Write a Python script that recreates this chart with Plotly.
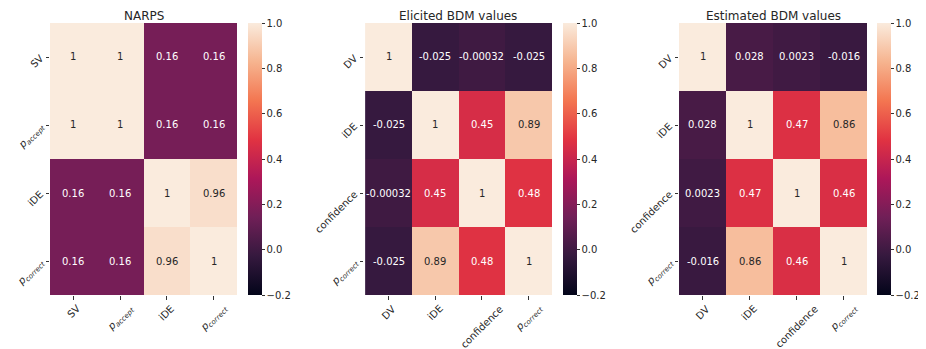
import plotly.graph_objects as go

# ---------------- data ----------------
P_ACC = "<i>p</i><sub><i>accept</i></sub>"
P_COR = "<i>p</i><sub><i>correct</i></sub>"

titles = ["NARPS", "Elicited BDM values", "Estimated BDM values"]

narps_labels = ["SV", P_ACC, "iDE", P_COR]
narps_values = [
    [1, 1, 0.16, 0.16],
    [1, 1, 0.16, 0.16],
    [0.16, 0.16, 1, 0.96],
    [0.16, 0.16, 0.96, 1],
]

elicited_labels = ["DV", "iDE", "confidence", P_COR]
elicited_values = [
    [1, -0.025, -0.00032, -0.025],
    [-0.025, 1, 0.45, 0.89],
    [-0.00032, 0.45, 1, 0.48],
    [-0.025, 0.89, 0.48, 1],
]

estimated_labels = ["DV", "iDE", "confidence", P_COR]
estimated_values = [
    [1, 0.028, 0.0023, -0.016],
    [0.028, 1, 0.47, 0.86],
    [0.0023, 0.47, 1, 0.46],
    [-0.016, 0.86, 0.46, 1],
]

cbar_ticks = [-0.2, 0.0, 0.2, 0.4, 0.6, 0.8, 1.0]

# ---------------- style ----------------
ZMIN, ZMAX = -0.2, 1.0
rocket_hex = ["#03051a", "#35193e", "#701f57", "#ad1759",
              "#e13342", "#f37651", "#f6b48f", "#faebdd"]
rocket_pos = [0, 1/7, 2/7, 3/7, 4/7, 5/7, 6/7, 1]
colorscale = [[p, c] for p, c in zip(rocket_pos, rocket_hex)]


def hex2rgb(h):
    h = h.lstrip("#")
    return [int(h[i:i + 2], 16) for i in (0, 2, 4)]


def color_at(v):
    t = (v - ZMIN) / (ZMAX - ZMIN)
    t = min(max(t, 0), 1)
    for i in range(len(rocket_pos) - 1):
        if rocket_pos[i] <= t <= rocket_pos[i + 1]:
            a, b = hex2rgb(rocket_hex[i]), hex2rgb(rocket_hex[i + 1])
            f = (t - rocket_pos[i]) / (rocket_pos[i + 1] - rocket_pos[i])
            return [a[k] + (b[k] - a[k]) * f for k in range(3)]
    return hex2rgb(rocket_hex[-1])


def text_color(v):
    rgb = [c / 255 for c in color_at(v)]
    lin = [c / 12.92 if c <= 0.03928 else ((c + 0.055) / 1.055) ** 2.4 for c in rgb]
    lum = 0.2126 * lin[0] + 0.7152 * lin[1] + 0.0722 * lin[2]
    return "#262626" if lum > 0.408 else "#ffffff"


# page body has an 8px margin -> figure is drawn 8px in from the corner
OFF = 8
W, H = 926 - OFF, 349 - OFF
FONT = "DejaVu Sans"
FS = 10

panels = [
    (narps_labels, narps_values, (50, 237), 249),
    (elicited_labels, elicited_values, (364, 552), 564),
    (estimated_labels, estimated_values, (679, 867), 878),
]
y_top, y_bot = 23 - OFF, 295 - OFF

fig = go.Figure()
annotations = []
for i, ((labels, vals, (xl, xr), cbx), title) in enumerate(zip(panels, titles)):
    xl, xr, cbx = xl - OFF, xr - OFF, cbx - OFF - 1
    ax = "" if i == 0 else str(i + 1)
    fig.add_trace(go.Heatmap(
        z=vals, x=labels, y=labels,
        xaxis="x" + ax, yaxis="y" + ax,
        zmin=ZMIN, zmax=ZMAX, colorscale=colorscale,
        hoverinfo="skip",
        colorbar=dict(
            x=cbx / W, xanchor="left", xpad=0, ypad=0,
            y=1 - y_top / H, yanchor="top",
            len=(y_bot - y_top) / H, lenmode="fraction",
            thickness=14, outlinewidth=0,
            tickvals=cbar_ticks, tickformat=".1f",
            ticks="outside", ticklen=3, tickwidth=0.8, tickcolor="#333",
            tickfont=dict(family=FONT, size=10, color="#262626"),
        ),
    ))
    fig.layout["xaxis" + ax] = dict(
        domain=[xl / W, xr / W], anchor="y" + ax, automargin=False,
        showticklabels=False, ticks="outside", ticklen=3.5, tickwidth=0.8,
        tickcolor="#333", showgrid=False, zeroline=False, showline=False,
    )
    fig.layout["yaxis" + ax] = dict(
        domain=[1 - y_bot / H, 1 - y_top / H], anchor="x" + ax, automargin=False,
        autorange="reversed", tickangle=-45, ticklabelstandoff=3,
        ticks="outside", ticklen=3.5, tickwidth=0.8, tickcolor="#333",
        tickfont=dict(family=FONT, size=FS, color="#262626"),
        showgrid=False, zeroline=False, showline=False,
    )
    # cell annotations
    for r, row in enumerate(vals):
        for c, v in enumerate(row):
            annotations.append(dict(
                x=labels[c], y=labels[r], xref="x" + ax, yref="y" + ax,
                text="{:.2g}".format(v), showarrow=False,
                font=dict(family=FONT, size=FS, color=text_color(v)),
            ))
    # x tick labels (rotated, centred on tick)
    for lab in labels:
        annotations.append(dict(
            x=lab, y=1 - (y_bot + 5) / H, xref="x" + ax, yref="paper",
            text=lab, textangle=-45, showarrow=False,
            xanchor="center", yanchor="top",
            font=dict(family=FONT, size=FS, color="#262626"),
        ))
    # title
    annotations.append(dict(
        x=(xl + xr) / 2 / W, y=1, xref="paper", yref="paper",
        text=title, showarrow=False, xanchor="center", yanchor="top",
        borderpad=0,
        font=dict(family=FONT, size=12, color="#262626"),
    ))

fig.update_layout(
    width=W, height=H,
    margin=dict(l=0, r=0, t=0, b=0, autoexpand=False),
    paper_bgcolor="white", plot_bgcolor="white",
    annotations=annotations, showlegend=False,
)

fig.write_html("out.html")
